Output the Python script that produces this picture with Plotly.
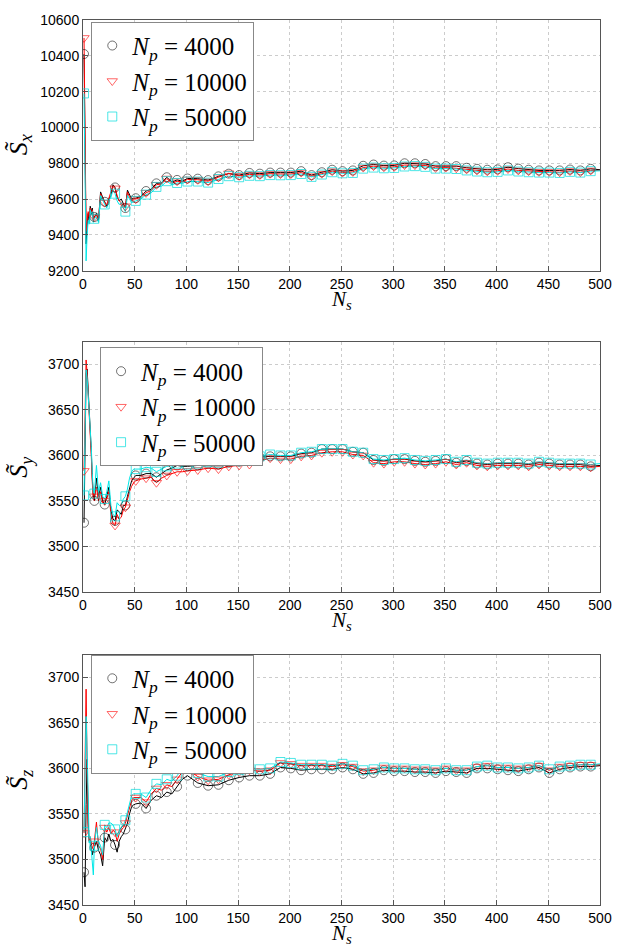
import plotly.graph_objects as go

# ---------------- data ----------------
x_early = list(range(1, 11)) + list(range(11, 52, 2))
x_mid = list(range(56, 102, 5))
x_late = list(range(111, 492, 10)) + [500]
Ns = x_early + x_mid + x_late

labels = ["4000", "10000", "50000"]

# S_x
sx_4000 = [10410, 9800, 9350, 9450, 9520, 9480, 9560, 9530, 9550, 9490,
           9500, 9520, 9480, 9640, 9610, 9585, 9560, 9600, 9620, 9680, 9665,
           9610, 9590, 9600, 9570, 9550, 9650, 9620, 9600, 9605, 9605,
           9615, 9645, 9655, 9688, 9690, 9722, 9695, 9707, 9700, 9715,
           9714, 9706, 9727, 9742, 9734, 9746, 9742, 9748, 9748, 9748,
           9756, 9734, 9750, 9764, 9756, 9760, 9786, 9793, 9787, 9788,
           9800, 9800, 9796, 9784, 9784, 9784, 9775, 9769, 9764, 9766,
           9778, 9770, 9764, 9760, 9760, 9760, 9765, 9760, 9769, 9764]
sx_10000 = [10500, 9750, 9420, 9480, 9530, 9500, 9550, 9520, 9540, 9480,
            9500, 9510, 9490, 9630, 9600, 9580, 9570, 9610, 9640, 9670, 9660,
            9620, 9590, 9580, 9560, 9560, 9640, 9610, 9590, 9600, 9600,
            9610, 9635, 9648, 9680, 9685, 9715, 9688, 9700, 9695, 9710,
            9708, 9700, 9722, 9744, 9730, 9738, 9735, 9742, 9740, 9740,
            9748, 9728, 9742, 9756, 9748, 9752, 9776, 9784, 9778, 9780,
            9790, 9790, 9788, 9774, 9776, 9772, 9766, 9760, 9755, 9758,
            9768, 9760, 9756, 9752, 9752, 9750, 9757, 9750, 9760, 9760]
sx_50000 = [10190, 9650, 9255, 9400, 9480, 9460, 9540, 9510, 9530, 9470,
            9490, 9500, 9470, 9620, 9590, 9570, 9550, 9590, 9610, 9650, 9630,
            9590, 9570, 9580, 9550, 9530, 9620, 9600, 9580, 9585, 9590,
            9600, 9625, 9635, 9668, 9672, 9700, 9680, 9690, 9688, 9698,
            9698, 9692, 9712, 9728, 9722, 9730, 9728, 9734, 9733, 9734,
            9740, 9724, 9737, 9750, 9744, 9746, 9770, 9776, 9772, 9774,
            9782, 9784, 9780, 9770, 9770, 9768, 9760, 9754, 9750, 9752,
            9760, 9754, 9750, 9748, 9748, 9746, 9752, 9748, 9756, 9758]

# S_y
sy_4000 = [3526, 3600, 3690, 3695, 3675, 3655, 3630, 3605, 3575, 3555,
           3550, 3575, 3555, 3565, 3550, 3546, 3555, 3565, 3540, 3530, 3528,
           3540, 3538, 3535, 3545, 3545, 3555, 3565, 3572, 3575, 3578,
           3578, 3580, 3580, 3576, 3580, 3584, 3586, 3589, 3588, 3588,
           3589, 3591, 3590, 3592, 3593, 3594, 3598, 3599, 3599, 3599,
           3602, 3603, 3607, 3607, 3607, 3604, 3603, 3595, 3594, 3596,
           3596, 3594, 3593, 3594, 3596, 3592, 3594, 3591, 3590, 3591,
           3591, 3591, 3590, 3592, 3591, 3590, 3590, 3590, 3588, 3589]
sy_10000 = [3583, 3650, 3705, 3690, 3670, 3650, 3625, 3600, 3570, 3552,
            3555, 3565, 3550, 3560, 3548, 3550, 3552, 3560, 3535, 3525, 3523,
            3535, 3530, 3532, 3540, 3543, 3552, 3560, 3566, 3570, 3572,
            3574, 3575, 3576, 3570, 3575, 3578, 3580, 3582, 3582, 3583,
            3584, 3586, 3585, 3588, 3589, 3590, 3594, 3597, 3596, 3596,
            3599, 3600, 3603, 3604, 3604, 3601, 3600, 3592, 3591, 3593,
            3593, 3591, 3590, 3591, 3593, 3590, 3592, 3589, 3588, 3589,
            3589, 3589, 3588, 3590, 3589, 3588, 3588, 3588, 3587, 3588]
sy_50000 = [3556, 3640, 3694, 3685, 3668, 3650, 3628, 3610, 3580, 3560,
            3558, 3589, 3560, 3570, 3555, 3552, 3560, 3572, 3545, 3535, 3533,
            3548, 3545, 3545, 3552, 3555, 3563, 3575, 3582, 3585, 3585,
            3585, 3587, 3586, 3582, 3585, 3588, 3589, 3591, 3590, 3590,
            3591, 3593, 3592, 3594, 3595, 3596, 3599, 3601, 3600, 3600,
            3603, 3604, 3607, 3607, 3607, 3604, 3603, 3596, 3595, 3596,
            3597, 3595, 3594, 3595, 3596, 3593, 3595, 3592, 3591, 3592,
            3592, 3592, 3591, 3593, 3592, 3591, 3591, 3591, 3590, 3591]

# S_z
sz_4000 = [3486, 3470, 3560, 3610, 3540, 3520, 3522, 3515, 3505, 3510,
           3513, 3520, 3510, 3505, 3493, 3524, 3520, 3528, 3520, 3522, 3516,
           3508, 3520, 3525, 3528, 3533, 3540, 3550, 3558, 3560, 3561,
           3562, 3556, 3565, 3570, 3568, 3574, 3572, 3580, 3588, 3592,
           3584, 3581, 3582, 3587, 3590, 3592, 3592, 3594, 3601, 3600,
           3598, 3599, 3599, 3599, 3601, 3599, 3594, 3595, 3598, 3597,
           3597, 3596, 3596, 3595, 3597, 3596, 3595, 3600, 3600, 3599,
           3598, 3597, 3599, 3601, 3595, 3599, 3601, 3602, 3602, 3603]
sz_10000 = [3529, 3600, 3687, 3600, 3530, 3520, 3525, 3518, 3512, 3515,
            3520, 3541, 3515, 3512, 3500, 3535, 3530, 3535, 3528, 3532, 3530,
            3520, 3528, 3532, 3535, 3540, 3548, 3558, 3565, 3568, 3568,
            3568, 3563, 3572, 3578, 3576, 3582, 3580, 3588, 3596, 3599,
            3591, 3587, 3588, 3593, 3596, 3598, 3597, 3598, 3606, 3605,
            3603, 3603, 3603, 3602, 3604, 3602, 3597, 3598, 3601, 3600,
            3600, 3599, 3599, 3598, 3600, 3598, 3598, 3602, 3603, 3601,
            3601, 3600, 3601, 3603, 3598, 3602, 3603, 3604, 3604, 3604]
sz_50000 = [3530, 3580, 3657, 3620, 3540, 3518, 3525, 3510, 3495, 3483,
            3515, 3535, 3520, 3515, 3505, 3538, 3535, 3540, 3540, 3538, 3533,
            3525, 3532, 3535, 3538, 3543, 3552, 3562, 3570, 3572, 3572,
            3572, 3568, 3577, 3583, 3582, 3588, 3586, 3592, 3600, 3604,
            3595, 3591, 3591, 3596, 3598, 3600, 3599, 3600, 3607, 3606,
            3604, 3604, 3604, 3603, 3605, 3603, 3598, 3599, 3601, 3600,
            3600, 3599, 3599, 3598, 3600, 3598, 3598, 3602, 3603, 3601,
            3601, 3600, 3601, 3603, 3599, 3602, 3603, 3604, 3604, 3605]

x_ticks = [0, 50, 100, 150, 200, 250, 300, 350, 400, 450, 500]
y1_ticks = [9200, 9400, 9600, 9800, 10000, 10200, 10400, 10600]
y23_ticks = [3450, 3500, 3550, 3600, 3650, 3700]
y_titles = ["x", "y", "z"]

panels = [
    (sx_4000, sx_10000, sx_50000),
    (sy_4000, sy_10000, sy_50000),
    (sz_4000, sz_10000, sz_50000),
]

# ---------------- style ----------------
line_colors = ["#000000", "#ff0000", "#00e8e8"]
mk_colors = ["rgba(0,0,0,0.55)", "rgba(255,0,0,0.6)", "rgba(0,220,220,0.7)"]
symbols = ["circle-open", "triangle-down-open", "square-open"]
MATH = "Liberation Serif"
SANS = "Liberation Sans"

fig = go.Figure()

for p, series in enumerate(panels):
    ax = "" if p == 0 else str(p + 1)
    for s, vals in enumerate(series):
        assert len(vals) == len(Ns)
        fig.add_trace(go.Scatter(
            x=Ns, y=vals, mode="lines", xaxis="x" + ax, yaxis="y" + ax,
            line=dict(color=line_colors[s], width=1), showlegend=False,
            hoverinfo="skip"))
    for s, vals in enumerate(series):
        mx = [x for x in Ns if (x - 1) % 10 == 0 and x <= 491]
        my = [v for x, v in zip(Ns, vals) if (x - 1) % 10 == 0 and x <= 491]
        fig.add_trace(go.Scatter(
            x=mx, y=my, mode="markers", xaxis="x" + ax, yaxis="y" + ax,
            marker=dict(symbol=symbols[s], size=9, color=mk_colors[s],
                        line=dict(color=mk_colors[s], width=1)),
            name="<i>N</i><sub><i>p</i></sub> = " + labels[s],
            legend="legend" + ax, showlegend=True))

# domains (paper fractions) for the three panels
ydoms = [[0.7167, 1.0], [0.3539, 0.6364], [0.0, 0.283]]
yranges = [[9200, 10600], [3450, 3725], [3450, 3725]]
yticks = [y1_ticks, y23_ticks, y23_ticks]
leg_pos = [(0.016, 0.998), (0.033, 0.630), (0.016, 0.283)]

axis_common = dict(
    showline=True, linecolor="#555555", linewidth=1, mirror=True,
    ticks="inside", ticklen=5, tickcolor="#555555",
    showgrid=True, gridcolor="#cccccc", griddash="dot", gridwidth=1,
    zeroline=False, tickformat="d",
    tickfont=dict(family=SANS, size=14, color="#000000"),
)

layout = dict(
    width=624, height=946,
    margin=dict(l=83, r=12, t=12, b=41),
    paper_bgcolor="white", plot_bgcolor="white",
    showlegend=True,
    annotations=[],
)

for p in range(3):
    ax = "" if p == 0 else str(p + 1)
    layout["xaxis" + ax] = dict(
        axis_common, domain=[0, 1], range=[0, 500], tickvals=x_ticks,
        anchor="y" + ax)
    layout["yaxis" + ax] = dict(
        axis_common, domain=ydoms[p], range=yranges[p], tickvals=yticks[p],
        anchor="x" + ax)
    layout["legend" + ax] = dict(
        x=leg_pos[p][0], y=leg_pos[p][1], xanchor="left", yanchor="top",
        bgcolor="white", bordercolor="#888888", borderwidth=1,
        font=dict(family=MATH, size=25, color="#000000"),
        tracegroupgap=0, itemwidth=30)
    layout["annotations"].append(dict(
        text="<i>S\u0303</i><sub><i>" + y_titles[p] + "</i></sub>",
        xref="x" + ax + " domain", yref="y" + ax + " domain",
        x=0, y=0.5, xshift=-63, xanchor="center", yanchor="middle",
        textangle=-90, showarrow=False,
        font=dict(family=MATH, size=26, color="#000000")))
    layout["annotations"].append(dict(
        text="<i>N</i><sub><i>s</i></sub>",
        xref="x" + ax + " domain", yref="y" + ax + " domain",
        x=0.5, y=0, yshift=-43, xanchor="center", yanchor="bottom",
        showarrow=False, borderpad=0,
        font=dict(family=MATH, size=21, color="#000000")))

fig.update_layout(layout)
fig.write_html("out.html",
               config={"displayModeBar": False},
               post_script="document.body.style.margin='0';")
